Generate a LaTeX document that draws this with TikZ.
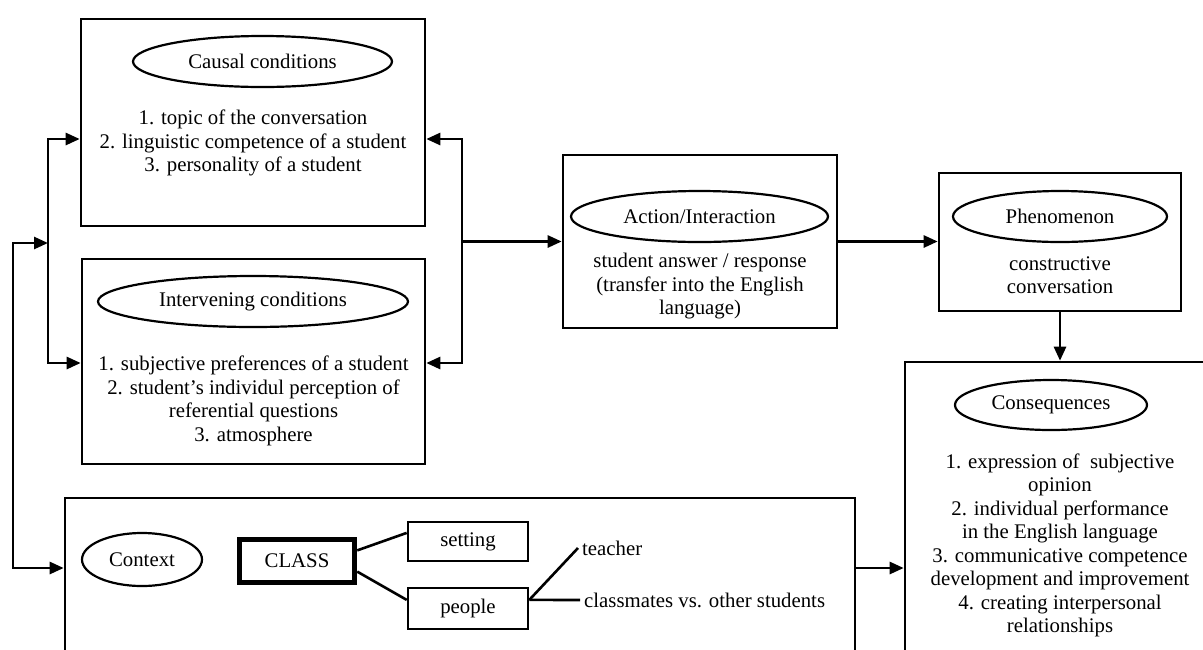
\documentclass[tikz,border=0pt]{standalone}
\usepackage{fontspec}
\setmainfont{Liberation Serif}
\usetikzlibrary{arrows.meta,shapes.geometric}
\begin{document}
\begin{tikzpicture}[x=1pt,y=-1pt,
  box/.style={draw,line width=2.6pt,rectangle,inner sep=0pt},
  oval/.style={draw,ellipse,line width=2.2pt,inner sep=0pt,font=\fontsize{20.8}{23.5}\selectfont},
  txt/.style={align=center,font=\fontsize{20.8}{23.5}\selectfont,inner sep=0pt},
  lbl/.style={font=\fontsize{20.8}{23.5}\selectfont,inner sep=4pt,anchor=west},
  conn/.style={line width=2.6pt},
  arr/.style={line width=2.6pt,-{Triangle[length=14pt,width=12pt]}},
  biarr/.style={line width=2.6pt,{Triangle[length=14pt,width=12pt]}-{Triangle[length=14pt,width=12pt]}}
]
\useasboundingbox (0,0) rectangle (1203,649);
\clip (0,0) rectangle (1203,649);

% Causal conditions
\node[box,minimum width=344pt,minimum height=207pt] (causal) at (253,122.5) {};
\node[oval,minimum width=259pt,minimum height=51pt] (causalE) at (262.5,61.5) {Causal conditions};
\node[txt] (causalT) at (253,143) {1. topic of the conversation\\2. linguistic competence of a student\\3. personality of a student};

% Intervening conditions
\node[box,minimum width=343pt,minimum height=205pt] (interv) at (253.5,361.5) {};
\node[oval,minimum width=310pt,minimum height=51pt] (intervE) at (253,301.5) {Intervening conditions};
\node[txt] (intervT) at (253.5,401) {1. subjective preferences of a student\\2. student’s individul perception of\\referential questions\\3. atmosphere};

% Action/Interaction
\node[box,minimum width=274pt,minimum height=173pt] (action) at (700,241.5) {};
\node[oval,minimum width=257pt,minimum height=51pt] (actionE) at (699.5,216.5) {Action/Interaction};
\node[txt] (actionT) at (700,286.5) {student answer / response\\(transfer into the English\\language)};

% Phenomenon
\node[box,minimum width=242pt,minimum height=138pt] (phen) at (1060,242) {};
\node[oval,minimum width=214pt,minimum height=51pt] (phenE) at (1060,216.5) {Phenomenon};
\node[txt] (phenT) at (1060,275) {constructive\\conversation};

% Consequences (open to the right and bottom)
\node[box,minimum width=330pt,minimum height=360pt] (cons) at (1070,542) {};
\node[oval,minimum width=192pt,minimum height=50pt] (consE) at (1051,405) {Consequences};
\node[txt] (consT) at (1060,545.5) {1. expression of \ subjective\\opinion\\2. individual performance\\in the English language\\3. communicative competence\\development and improvement\\4. creating interpersonal\\relationships};

% Context (open at the bottom)
\node[box,minimum width=790pt,minimum height=220pt] (context) at (460,608) {};
\node[oval,minimum width=120pt,minimum height=53pt] (contextE) at (142,559.5) {Context};
\node[draw,line width=5.5pt,rectangle,inner sep=0pt,minimum width=115pt,minimum height=43pt,font=\fontsize{20.8}{23.5}\selectfont] (class) at (297,561) {CLASS};
\node[box,minimum width=120pt,minimum height=39pt,font=\fontsize{20.8}{23.5}\selectfont] (setting) at (468,541.5) {setting};
\node[box,minimum width=120pt,minimum height=41pt,font=\fontsize{20.8}{23.5}\selectfont] (people) at (468,608.5) {people};
\node[lbl] (teacher) at (578,548) {teacher};
\node[lbl] (mates) at (580,600) {classmates vs. other students};

\draw[conn] (class.10) -- (setting.172);
\draw[conn] (class.-10) -- (people.172);
\draw[conn] (people.8) -- (teacher.west);
\draw[conn] (people.8) -- (mates.west);

% Left bus
\coordinate (lb) at (48,243);
\coordinate (lt) at (48,139);
\coordinate (lbt) at (48,363);
\draw[arr] (lb) -- (lt) -- (causal.west |- lt);
\draw[arr] (lb) -- (lbt) -- (interv.west |- lbt);
\coordinate (o1) at (13,243);
\coordinate (o2) at (13,568);
\draw[biarr] (lb) -- (o1) -- (o2) -- (context.west |- o2);

% Right bus
\coordinate (rm) at (462,241.5);
\coordinate (rt) at (462,139);
\coordinate (rb) at (462,363);
\draw[arr] (rm) -- (rt) -- (causal.east |- rt);
\draw[arr] (rm) -- (rb) -- (interv.east |- rb);
\draw[arr] (rm) -- (action.west);

\draw[arr] (action.east) -- (phen.west |- action.east);
\draw[arr] (phen.south) -- (phen.south |- cons.north);
\coordinate (cy) at (0,568);
\draw[arr] (context.east |- cy) -- (cons.west |- cy);
\end{tikzpicture}
\end{document}
